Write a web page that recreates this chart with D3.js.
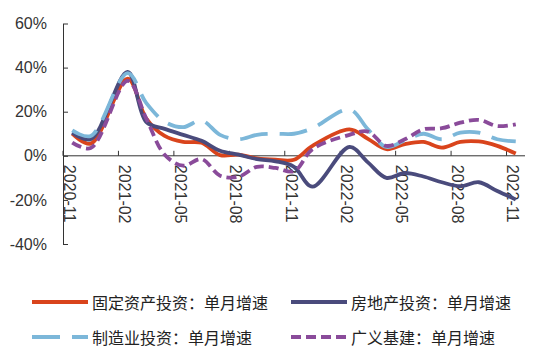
<!DOCTYPE html>
<html>
<head>
<meta charset="utf-8">
<script src="https://cdn.jsdelivr.net/npm/d3@7"></script>
<style>
  body { margin: 0; background: #fff; }
  svg { display: block; }
</style>
</head>
<body>
<script>
// months on the category axis (Jan is merged into Feb in the source data)
const months = ["2020-11", "2020-12", "2021-01", "2021-02", "2021-03", "2021-04", "2021-05",
    "2021-06", "2021-07", "2021-08", "2021-09", "2021-10", "2021-11", "2021-12",
    "2022-01", "2022-02", "2022-03", "2022-04", "2022-05", "2022-06", "2022-07",
    "2022-08", "2022-09", "2022-10", "2022-11"];
const tickLabels = ["2020-11", "2021-02", "2021-05", "2021-08", "2021-11",
    "2022-02", "2022-05", "2022-08", "2022-11"];
const yTicks = [-40, -20, 0, 20, 40, 60];

// 单月增速 (%)
const fai = [10, 5.5, null, 35, 17, 9, 6.3, 5.9, 0.3, 0.5, -1.2, -1.8, -1.8, 4.5,
    null, 12, 7.7, 3, 5.3, 6.3, 3.7, 6.3, 6.5, 4.5, 1];
const realEstate = [10.5, 7.5, null, 38, 15.4, 12.2, 9.5, 6.8, 2.3, 0.5, -1.5, -2.5, -5, -14,
    null, 4, -3, -10, -7.8, -9.4, -12, -13.8, -12, -16, -19.8];
const manufacturing = [11.5, 9, null, 37.5, 24, 15.5, 13, 16, 9.5, 7.5, 9.5, 10, 10, 12.5,
    null, 21, 12, 4, 7, 10, 7.5, 10.5, 10.5, 7.5, 6.5];
const infra = [6, 3.5, null, 34, 17, 0.5, -4.5, -1.5, -9, -9.5, -5, -5.5, -7, 3,
    null, 9.5, 11, 4.5, 7.5, 12, 12.5, 15, 16.3, 13.5, 14.3];

const seriesNames = ["固定资产投资：单月增速", "房地产投资：单月增速", "制造业投资：单月增速", "广义基建：单月增速"];

const series = [
    { name: seriesNames[0], values: fai, color: "#d9441c", dash: null },
    { name: seriesNames[1], values: realEstate, color: "#4a4b7c", dash: null },
    { name: seriesNames[2], values: manufacturing, color: "#7cb7d9", dash: "28,12" },
    { name: seriesNames[3], values: infra, color: "#8a4b9a", dash: "10,5" }
];

const W = 550, H = 354;
const font = "'Liberation Sans', Arial, sans-serif";
const cjk = "'Noto Sans CJK SC', sans-serif";

const svg = d3.select("body").append("svg")
    .attr("width", W)
    .attr("height", H);

const x = d3.scaleBand().domain(months).range([63, 525]);
const y = d3.scaleLinear().domain([-40, 60]).range([244, 23.5]);
const bw = x.bandwidth();
const y0 = y(0);

// Y axis
const yAxis = svg.append("g")
    .attr("transform", "translate(63,0)")
    .call(d3.axisLeft(y).tickValues(yTicks).tickSizeInner(-5).tickSizeOuter(0)
        .tickPadding(16).tickFormat(d => d + "%"));
yAxis.selectAll("path, line").attr("stroke", "#333");
yAxis.selectAll("text")
    .attr("font-family", font)
    .attr("font-size", 16)
    .attr("fill", "#333");

// X axis at 0%
svg.append("line")
    .attr("x1", x.range()[0]).attr("x2", x.range()[1])
    .attr("y1", y0).attr("y2", y0)
    .attr("stroke", "#333");

svg.selectAll(".xtick")
    .data(tickLabels)
    .join("line")
    .attr("class", "xtick")
    .attr("x1", d => x(d)).attr("x2", d => x(d))
    .attr("y1", y0 - 5).attr("y2", y0)
    .attr("stroke", "#333");

svg.selectAll(".xlabel")
    .data(tickLabels)
    .join("text")
    .attr("class", "xlabel")
    .attr("transform", d => `translate(${x(d) + bw / 2 - 3},${y0 + 9}) rotate(90)`)
    .attr("dominant-baseline", "central")
    .attr("font-family", font)
    .attr("font-size", 16)
    .attr("fill", "#333")
    .text(d => d);

// lines
const line = d3.line().curve(d3.curveCatmullRom.alpha(0.5));

series.forEach(s => {
    const pts = months.map((m, i) => [x(m) + bw / 2, s.values[i]])
        .filter(p => p[1] !== null)
        .map(p => [p[0], y(p[1])]);
    svg.append("path")
        .attr("d", line(pts))
        .attr("fill", "none")
        .attr("stroke", s.color)
        .attr("stroke-width", 3.8)
        .attr("stroke-dasharray", s.dash);
});

// legend
const legendPos = [[32, 302], [291, 302], [32, 337], [291, 337]];
series.forEach((s, i) => {
    const [lx, ly] = legendPos[i];
    svg.append("line")
        .attr("x1", lx).attr("x2", lx + 56)
        .attr("y1", ly).attr("y2", ly)
        .attr("stroke", s.color)
        .attr("stroke-width", 3.8)
        .attr("stroke-dasharray", s.dash);
    svg.append("text")
        .attr("x", lx + 60).attr("y", ly)
        .attr("dominant-baseline", "central")
        .attr("font-family", cjk)
        .attr("font-size", 16)
        .attr("fill", "#222")
        .text(s.name);
});
</script>
</body>
</html>
